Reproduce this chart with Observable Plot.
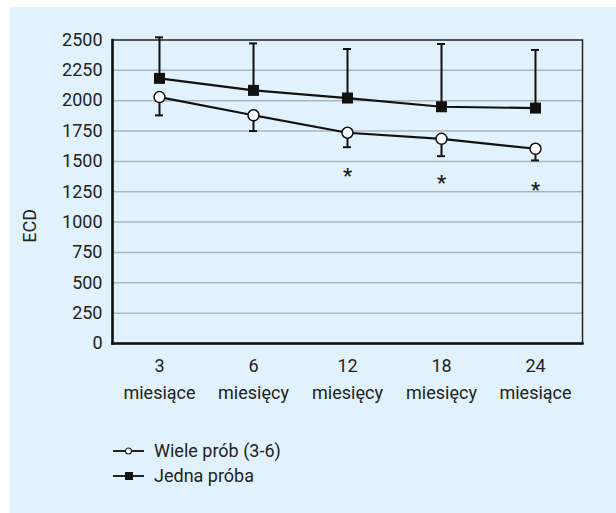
<!DOCTYPE html>
<html>
<head>
<meta charset="utf-8">
<script src="https://cdn.jsdelivr.net/npm/d3@7"></script>
<script src="https://cdn.jsdelivr.net/npm/@observablehq/plot@0.6"></script>
<style>
  html, body { margin: 0; padding: 0; background: #ffffff; }
  #wrap { position: absolute; left: 10px; top: 7px; width: 606px; height: 506px; background: #e1f2fc; font-family: Roboto, sans-serif; color: #222; }
  #chart svg { display: block; }
  .leg { position: absolute; left: 103px; display: flex; align-items: center; font-size: 18px; color: #222; }
  .leg svg { margin-right: 9px; }
</style>
</head>
<body>
<div id="wrap">
  <div id="chart"></div>
  <div class="leg" style="top:433px"><svg width="32" height="12"><line x1="0" x2="31" y1="6" y2="6" stroke="#222" stroke-width="2"/><circle cx="15.5" cy="6" r="3" fill="#fff" stroke="#222" stroke-width="1.2"/></svg>Wiele prób (3-6)</div>
  <div class="leg" style="top:458px"><svg width="32" height="12"><line x1="0" x2="31" y1="6" y2="6" stroke="#222" stroke-width="2"/><rect x="12" y="2" width="8" height="8" fill="#111"/></svg>Jedna próba</div>
</div>
<script>
const months = ["3", "6", "12", "18", "24"];
const monthWords = ["miesiące", "miesięcy", "miesięcy", "miesięcy", "miesiące"];
const wiele = [2030, 1880, 1736, 1686, 1604];
const wieleLow = [1879, 1750, 1617, 1543, 1508];
const jedna = [2184, 2085, 2022, 1950, 1939];
const jednaHigh = [2522, 2472, 2426, 2467, 2418];
const starMonths = ["12", "18", "24"];
const starValues = [1392, 1336, 1276];
const yTicks = [0, 250, 500, 750, 1000, 1250, 1500, 1750, 2000, 2250, 2500];

const W = months.map((m, i) => ({m, v: wiele[i], lo: wieleLow[i]}));
const J = months.map((m, i) => ({m, v: jedna[i], hi: jednaHigh[i]}));
const S = starMonths.map((m, i) => ({m, v: starValues[i]}));
const wordOf = Object.fromEntries(months.map((m, i) => [m, monthWords[i]]));

const plot = Plot.plot({
  width: 606,
  height: 410,
  marginLeft: 102,
  marginRight: 34,
  marginTop: 32.5,
  marginBottom: 74,
  style: {fontFamily: "Roboto, sans-serif", fontSize: "18px", color: "#222", background: "transparent", overflow: "visible"},
  x: {type: "band", domain: months, padding: 0, label: null},
  y: {domain: [0, 2500], label: null},
  marks: [
    Plot.gridY(yTicks.slice(1, -1), {stroke: "#a9b5be", strokeOpacity: 1, strokeWidth: 1.5}),
    Plot.axisY(yTicks, {tickSize: 0, tickPadding: 10, fontSize: 18, fill: "#222", tickFormat: d3.format("d")}),
    Plot.axisX({tickSize: 0, tickPadding: 16, fontSize: 18, fill: "#222"}),
    Plot.axisX({tickSize: 0, tickPadding: 43, fontSize: 18, fill: "#222", tickFormat: d => wordOf[d]}),
    Plot.text(["ECD"], {frameAnchor: "left", dx: -82, dy: 51, rotate: -90, fontSize: 18, fill: "#222"}),
    Plot.frame({stroke: "#222", strokeWidth: 1.5}),
    Plot.frame({anchor: "left", stroke: "#111", strokeWidth: 2.5}),
    Plot.frame({anchor: "bottom", stroke: "#111", strokeWidth: 2.5}),
    // error bars
    Plot.ruleX(J, {x: "m", y1: "v", y2: "hi", stroke: "#111", strokeWidth: 2}),
    Plot.tickY(J, {x: "m", y: "hi", stroke: "#111", strokeWidth: 2, insetLeft: 43, insetRight: 43}),
    Plot.ruleX(W, {x: "m", y1: "lo", y2: "v", stroke: "#111", strokeWidth: 2}),
    Plot.tickY(W, {x: "m", y: "lo", stroke: "#111", strokeWidth: 2, insetLeft: 43, insetRight: 43}),
    // lines
    Plot.line(J, {x: "m", y: "v", stroke: "#111", strokeWidth: 2.2}),
    Plot.line(W, {x: "m", y: "v", stroke: "#111", strokeWidth: 2.2}),
    // markers
    Plot.dot(J, {x: "m", y: "v", symbol: "square", r: 6.2, fill: "#111", stroke: "none"}),
    Plot.dot(W, {x: "m", y: "v", symbol: "circle", r: 5.5, fill: "#fff", stroke: "#111", strokeWidth: 1.5}),
    // significance stars
    Plot.text(S, {x: "m", y: "v", text: () => "*", fontSize: 20, fontWeight: "bold", fill: "#222", dy: 2})
  ]
});
document.getElementById("chart").appendChild(plot);
</script>
</body>
</html>
